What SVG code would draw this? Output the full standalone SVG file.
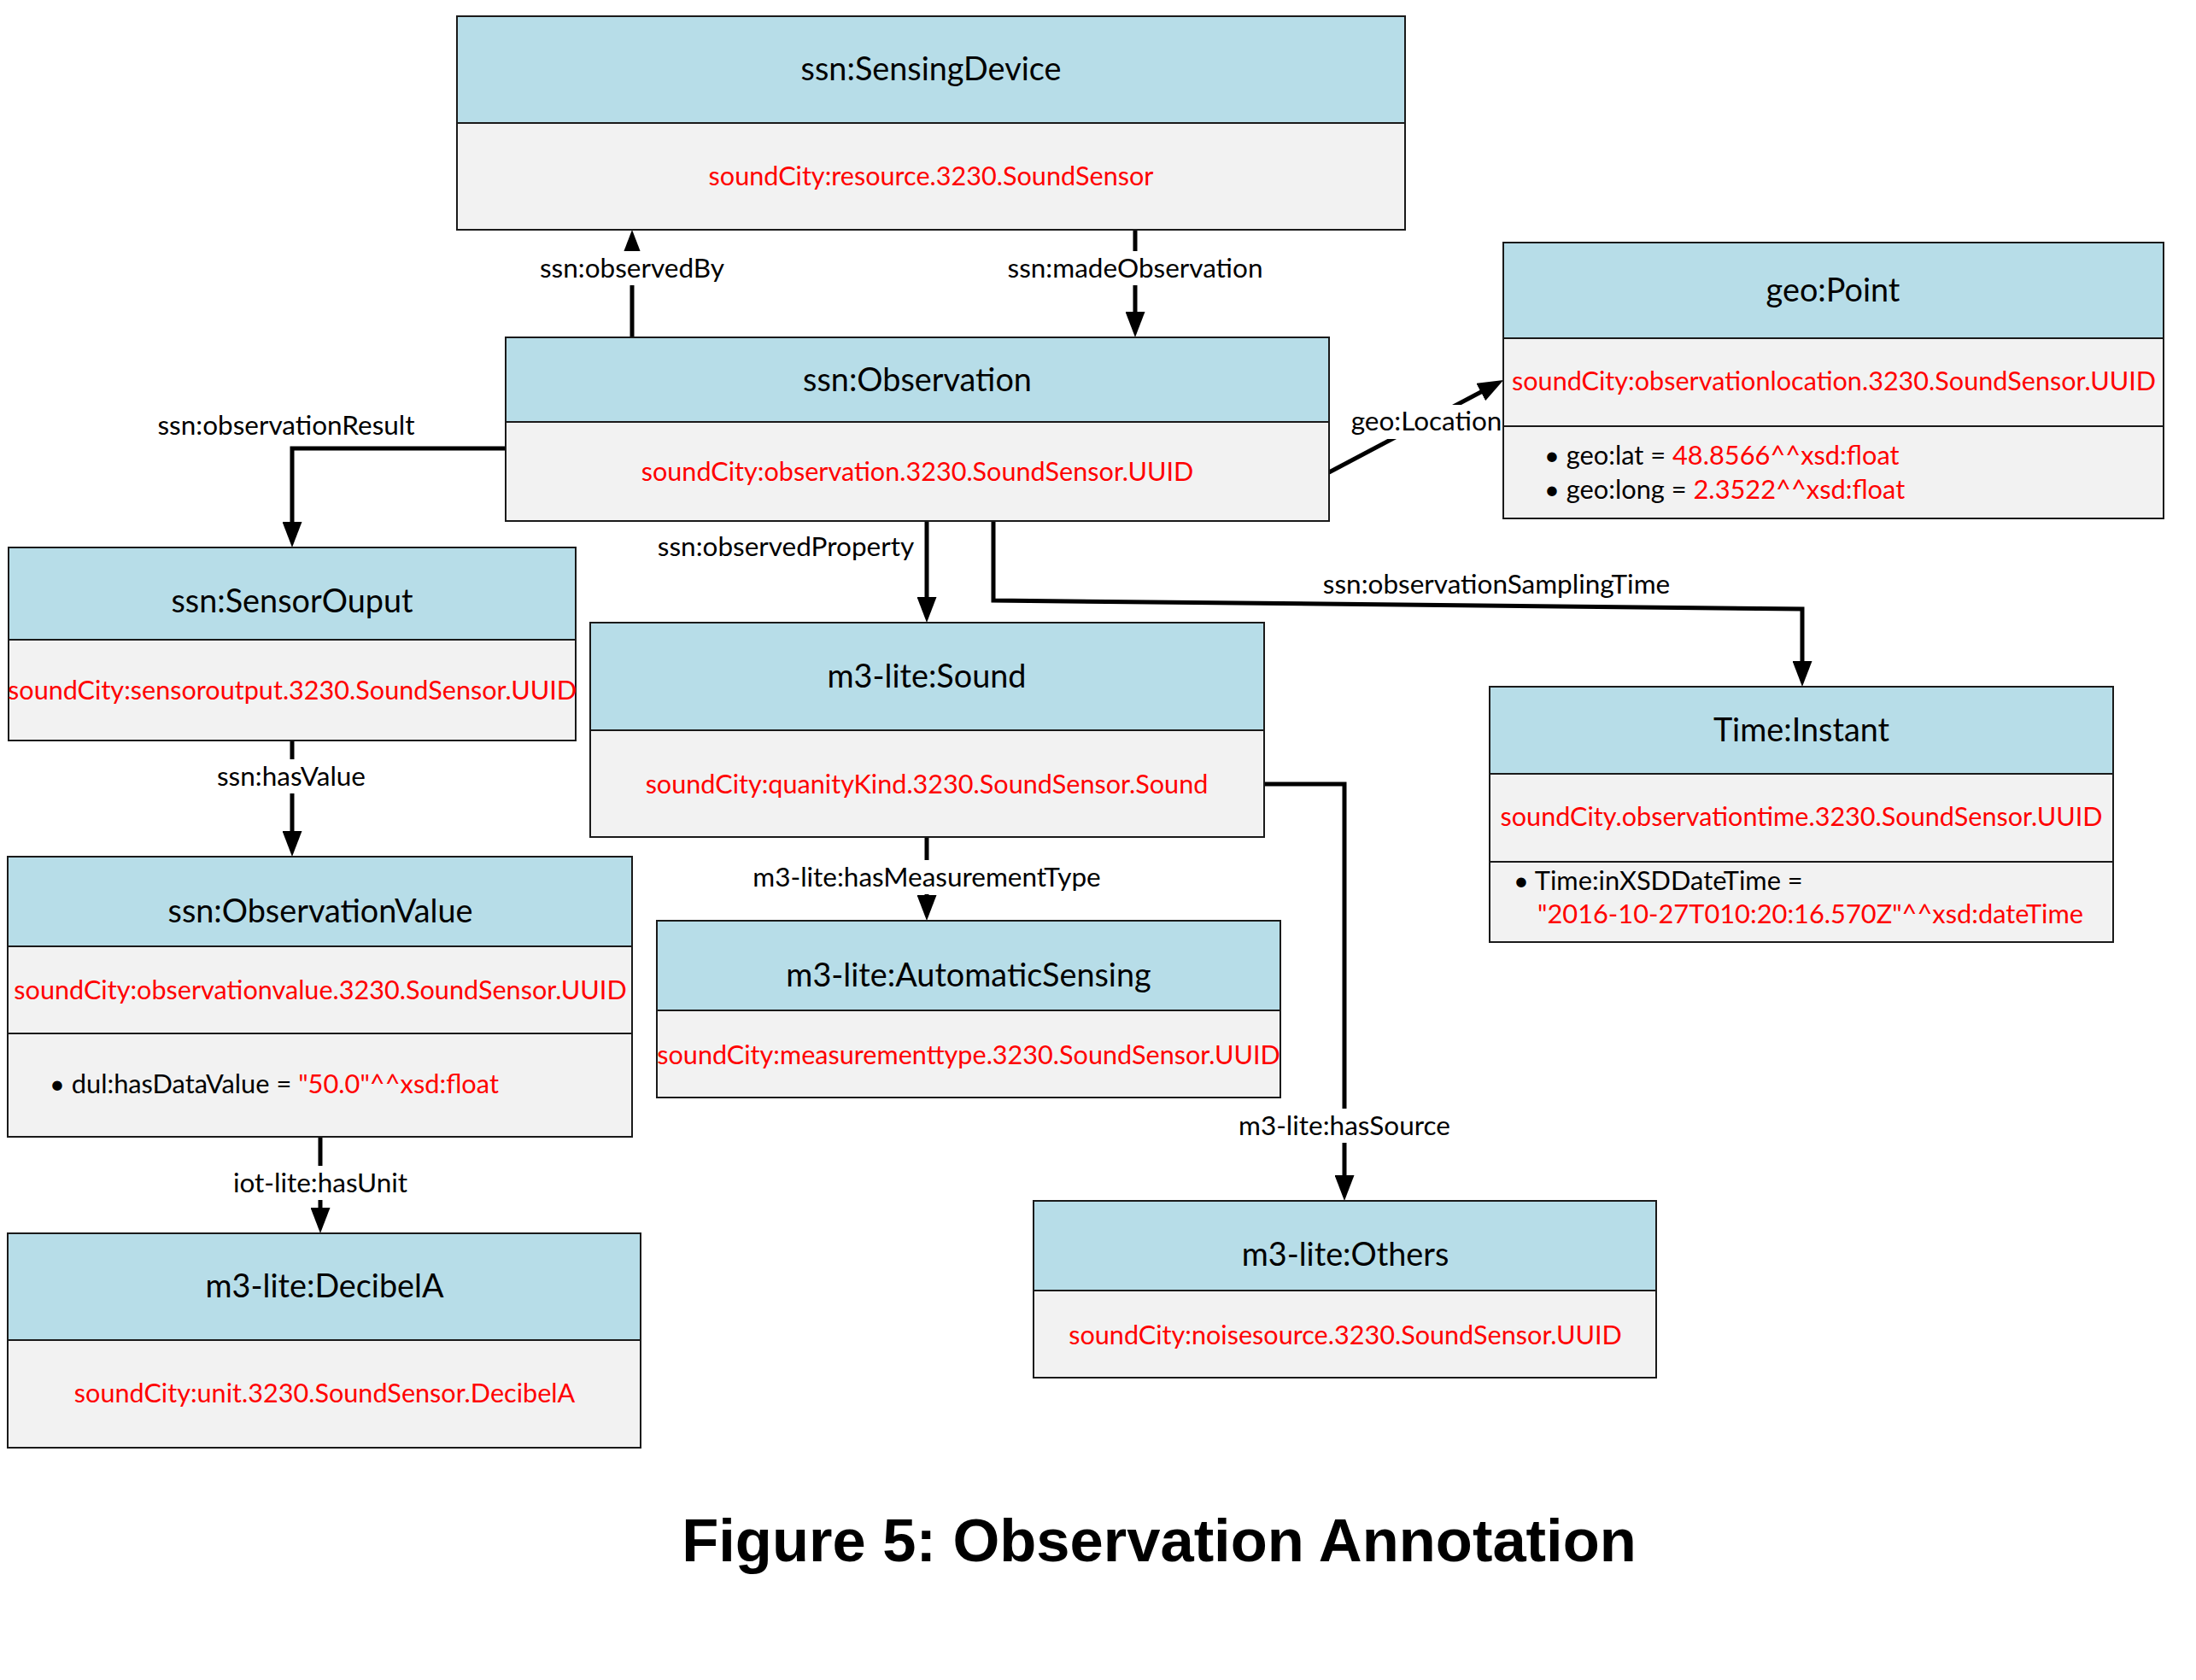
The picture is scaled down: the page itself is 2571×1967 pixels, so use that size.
<svg xmlns="http://www.w3.org/2000/svg" width="2571" height="1967" viewBox="0 0 2571 1967">
<style>
.hd{fill:#b7dde8;stroke:#1a1a1a;stroke-width:2}
.bd{fill:#f2f2f2;stroke:#1a1a1a;stroke-width:2}
.t{font-family:Lato,"Liberation Sans",sans-serif;font-size:37.8px;fill:#000;text-anchor:middle;dominant-baseline:central}
.r{font-family:Lato,"Liberation Sans",sans-serif;font-size:30.6px;fill:#ff0000;text-anchor:middle;dominant-baseline:central}
.b{font-family:Lato,"Liberation Sans",sans-serif;font-size:30.8px;fill:#000;dominant-baseline:central}
.rv{fill:#ff0000}
.lb{font-family:Lato,"Liberation Sans",sans-serif;font-size:31.5px;fill:#000;text-anchor:middle;dominant-baseline:central}
.bg{fill:#fff}
.e{fill:none;stroke:#000;stroke-width:5;marker-end:url(#ah)}
.cap{font-family:"Liberation Sans",Arial,sans-serif;font-size:70.5px;font-weight:bold;fill:#000;text-anchor:middle}
</style>
<defs>
<marker id="ah" markerUnits="userSpaceOnUse" markerWidth="30" markerHeight="23" refX="15" refY="11.5" orient="auto" viewBox="0 0 30 23">
<path d="M0,0 L30,11.5 L0,23 Z" fill="#000"/>
</marker>
</defs>
<rect width="2571" height="1967" fill="#fff"/>

<g id="connectors">
<g id="e-observedBy"><path class="e" d="M740,395 V284"/><rect class="bg" x="625" y="294" width="230" height="40"/><text class="lb" x="740" y="313">ssn:observedBy</text></g>
<g id="e-madeObservation"><path class="e" d="M1329,269 V380"/><rect class="bg" x="1174" y="294" width="310" height="40"/><text class="lb" x="1329" y="313">ssn:madeObservation</text></g>
<g id="e-observationResult"><path class="e" d="M592,525 H342 V626"/><text class="lb" x="335" y="497">ssn:observationResult</text></g>
<g id="e-observedProperty"><path class="e" d="M1085,610 V714"/><text class="lb" x="920" y="639">ssn:observedProperty</text></g>
<g id="e-samplingTime"><path class="e" d="M1163,610 V703 L2110,713 V789"/><text class="lb" x="1752" y="683">ssn:observationSamplingTime</text></g>
<g id="e-geoLocation"><path class="e" d="M1556,553 L1747,452"/><rect class="bg" x="1582" y="474" width="177" height="40"/><text class="lb" x="1670" y="492">geo:Location</text></g>
<g id="e-hasValue"><path class="e" d="M342,867 V988"/><rect class="bg" x="246" y="889" width="192" height="40"/><text class="lb" x="341" y="908">ssn:hasValue</text></g>
<g id="e-hasMeasurementType"><path class="e" d="M1085,980 V1063"/><rect class="bg" x="872" y="1007" width="426" height="40"/><text class="lb" x="1085" y="1026">m3-lite:hasMeasurementType</text></g>
<g id="e-hasSource"><path class="e" d="M1479,918 H1574 V1391"/><rect class="bg" x="1444" y="1298" width="260" height="40"/><text class="lb" x="1574" y="1317">m3-lite:hasSource</text></g>
<g id="e-hasUnit"><path class="e" d="M375,1331 V1429"/><rect class="bg" x="265" y="1365" width="220" height="40"/><text class="lb" x="375" y="1384">iot-lite:hasUnit</text></g>
</g>

<g id="n-sensingDevice">
<rect class="hd" x="535" y="19" width="1110" height="125"/>
<rect class="bd" x="535" y="144" width="1110" height="125"/>
<text class="t" x="1090" y="79">ssn:SensingDevice</text>
<text class="r" x="1090" y="205">soundCity:resource.3230.SoundSensor</text>
</g>

<g id="n-observation">
<rect class="hd" x="592" y="395" width="964" height="99"/>
<rect class="bd" x="592" y="494" width="964" height="116"/>
<text class="t" x="1074" y="443">ssn:Observation</text>
<text class="r" x="1074" y="551">soundCity:observation.3230.SoundSensor.UUID</text>
</g>

<g id="n-geoPoint">
<rect class="hd" x="1760" y="284" width="773" height="112"/>
<rect class="bd" x="1760" y="396" width="773" height="103"/>
<rect class="bd" x="1760" y="499" width="773" height="108"/>
<text class="t" x="2146" y="338">geo:Point</text>
<text class="r" x="2147" y="445">soundCity:observationlocation.3230.SoundSensor.UUID</text>
<text class="b" x="1808" y="532">• geo:lat = <tspan class="rv">48.8566^^xsd:float</tspan></text>
<text class="b" x="1808" y="572">• geo:long = <tspan class="rv">2.3522^^xsd:float</tspan></text>
</g>

<g id="n-sensorOuput">
<rect class="hd" x="10" y="641" width="664" height="108"/>
<rect class="bd" x="10" y="749" width="664" height="118"/>
<text class="t" x="342" y="702">ssn:SensorOuput</text>
<text class="r" x="342" y="807">soundCity:sensoroutput.3230.SoundSensor.UUID</text>
</g>

<g id="n-sound">
<rect class="hd" x="691" y="729" width="789" height="126"/>
<rect class="bd" x="691" y="855" width="789" height="125"/>
<text class="t" x="1085" y="790">m3-lite:Sound</text>
<text class="r" x="1085" y="917">soundCity:quanityKind.3230.SoundSensor.Sound</text>
</g>

<g id="n-timeInstant">
<rect class="hd" x="1744" y="804" width="730" height="102"/>
<rect class="bd" x="1744" y="906" width="730" height="103"/>
<rect class="bd" x="1744" y="1009" width="730" height="94"/>
<text class="t" x="2109" y="853">Time:Instant</text>
<text class="r" x="2109" y="955">soundCity.observationtime.3230.SoundSensor.UUID</text>
<text class="b" x="1772" y="1030">• Time:inXSDDateTime =</text>
<text class="b rv" x="1800" y="1069">"2016-10-27T010:20:16.570Z"^^xsd:dateTime</text>
</g>

<g id="n-observationValue">
<rect class="hd" x="9" y="1003" width="731" height="105"/>
<rect class="bd" x="9" y="1108" width="731" height="102"/>
<rect class="bd" x="9" y="1210" width="731" height="121"/>
<text class="t" x="375" y="1065">ssn:ObservationValue</text>
<text class="r" x="375" y="1158">soundCity:observationvalue.3230.SoundSensor.UUID</text>
<text class="b" x="58" y="1268">• dul:hasDataValue = <tspan class="rv">"50.0"^^xsd:float</tspan></text>
</g>

<g id="n-decibelA">
<rect class="hd" x="9" y="1444" width="741" height="125"/>
<rect class="bd" x="9" y="1569" width="741" height="126"/>
<text class="t" x="380" y="1504">m3-lite:DecibelA</text>
<text class="r" x="380" y="1630">soundCity:unit.3230.SoundSensor.DecibelA</text>
</g>

<g id="n-automaticSensing">
<rect class="hd" x="769" y="1078" width="730" height="105"/>
<rect class="bd" x="769" y="1183" width="730" height="102"/>
<text class="t" x="1134" y="1140">m3-lite:AutomaticSensing</text>
<text class="r" x="1134" y="1234">soundCity:measurementtype.3230.SoundSensor.UUID</text>
</g>

<g id="n-others">
<rect class="hd" x="1210" y="1406" width="729" height="105"/>
<rect class="bd" x="1210" y="1511" width="729" height="102"/>
<text class="t" x="1575" y="1467">m3-lite:Others</text>
<text class="r" x="1575" y="1562">soundCity:noisesource.3230.SoundSensor.UUID</text>
</g>

<text id="caption" class="cap" x="1357" y="1828">Figure 5: Observation Annotation</text>
</svg>
